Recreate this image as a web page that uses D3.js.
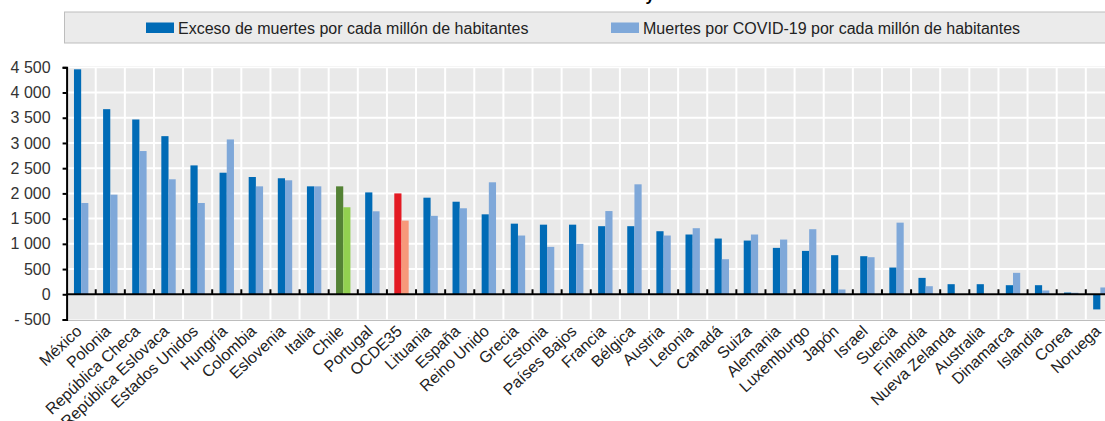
<!DOCTYPE html>
<html>
<head>
<meta charset="utf-8">
<script src="https://cdn.jsdelivr.net/npm/d3@7"></script>
<style>
  body { margin: 0; background: #fff; }
  svg { display: block; font-family: "Liberation Sans", Arial, sans-serif; }
</style>
</head>
<body>
<script>
var countries = ["México", "Polonia", "República Checa", "República Eslovaca", "Estados Unidos",
  "Hungría", "Colombia", "Eslovenia", "Italia", "Chile", "Portugal", "OCDE35", "Lituania",
  "España", "Reino Unido", "Grecia", "Estonia", "Países Bajos", "Francia", "Bélgica", "Austria",
  "Letonia", "Canadá", "Suiza", "Alemania", "Luxemburgo", "Japón", "Israel", "Suecia",
  "Finlandia", "Nueva Zelanda", "Australia", "Dinamarca", "Islandia", "Corea", "Noruega"];
var excess = [4460, 3670, 3465, 3135, 2555, 2410, 2325, 2300, 2140, 2140, 2020, 2000, 1915,
  1835, 1585, 1400, 1380, 1380, 1350, 1350, 1250, 1185, 1105, 1065, 920, 860, 775, 755, 530,
  325, 200, 200, 180, 180, 35, -300];
var covid = [1810, 1975, 2840, 2280, 1810, 3070, 2140, 2260, 2140, 1725, 1645, 1460, 1555,
  1705, 2220, 1165, 940, 1000, 1650, 2180, 1165, 1310, 695, 1185, 1085, 1290, 95, 735, 1420,
  160, 0, 0, 425, 75, 30, 135];
var seriesNames = ["Exceso de muertes por cada millón de habitantes",
  "Muertes por COVID-19 por cada millón de habitantes"];
var yTicks = [-500, 0, 500, 1000, 1500, 2000, 2500, 3000, 3500, 4000, 4500];
var yTickLabels = ["- 500", "0", "500", "1 000", "1 500", "2 000", "2 500", "3 000", "3 500", "4 000", "4 500"];

(function() {
  var W = 1105, H = 421;
  var pLeft = 66.6, pTop = 67.3, pBottom = 319.5;
  var band = 29.12;

  var svg = d3.select("body").append("svg").attr("width", W).attr("height", H);

  // colours: normal, Chile, OECD
  var darkCol = function(d) { return d === "Chile" ? "#548235" : d === "OCDE35" ? "#e31a23" : "#006bb6"; };
  var lightCol = function(d) { return d === "Chile" ? "#92d050" : d === "OCDE35" ? "#f7987a" : "#7fa8d9"; };

  var x = d3.scaleBand().domain(countries).range([pLeft, pLeft + band * countries.length]);
  var y = d3.scaleLinear().domain([-500, 4500]).range([pBottom, pTop]);
  var bw = band * 0.247;

  // clipped title fragment at the very top
  svg.append("text").attr("x", 650).attr("y", 1).attr("text-anchor", "middle")
    .style("font-size", "16px").style("font-weight", "bold").attr("fill", "#000").text("y");

  // legend
  svg.append("rect").attr("x", 64.5).attr("y", 12).attr("width", W).attr("height", 31)
    .attr("fill", "#ebebeb").attr("stroke", "#bdbdbd");
  var lg = [{x: 146, c: "#006bb6"}, {x: 611, c: "#7fa8d9"}];
  lg.forEach(function(l, i) {
    svg.append("rect").attr("x", l.x).attr("y", 22.5).attr("width", 28).attr("height", 10.5).attr("fill", l.c);
    svg.append("text").attr("x", l.x + 32).attr("y", 33.5).style("font-size", "16px")
      .attr("fill", "#222").text(seriesNames[i]);
  });

  // plot area
  svg.append("rect").attr("x", pLeft).attr("y", pTop).attr("width", W - pLeft).attr("height", pBottom - pTop)
    .attr("fill", "#e9e9e9");
  svg.append("line").attr("x1", pLeft).attr("x2", W).attr("y1", pTop - 0.5).attr("y2", pTop - 0.5)
    .attr("stroke", "#c8c8c8");
  svg.append("line").attr("x1", pLeft).attr("x2", W).attr("y1", pBottom + 1).attr("y2", pBottom + 1)
    .attr("stroke", "#bdbdbd");

  // grid
  svg.append("g").selectAll("line").data(yTicks.slice(1)).enter().append("line")
    .attr("x1", pLeft).attr("x2", W).attr("y1", function(d) { return y(d); }).attr("y2", function(d) { return y(d); })
    .attr("stroke", "#fff").attr("stroke-width", 2);
  svg.append("g").selectAll("line").data(countries.slice(1)).enter().append("line")
    .attr("x1", function(d) { return x(d); }).attr("x2", function(d) { return x(d); })
    .attr("y1", pTop).attr("y2", pBottom)
    .attr("stroke", "#fff").attr("stroke-width", 2);

  // bars
  var g = svg.append("g");
  g.selectAll(".ex").data(countries).enter().append("rect").attr("class", "ex")
    .attr("x", function(d) { return x(d) + band / 2 - bw; })
    .attr("width", bw)
    .attr("y", function(d, i) { return y(Math.max(0, excess[i])); })
    .attr("height", function(d, i) { return Math.abs(y(excess[i]) - y(0)); })
    .attr("fill", darkCol);
  g.selectAll(".cv").data(countries).enter().append("rect").attr("class", "cv")
    .attr("x", function(d) { return x(d) + band / 2; })
    .attr("width", bw)
    .attr("y", function(d, i) { return y(Math.max(0, covid[i])); })
    .attr("height", function(d, i) { return Math.abs(y(covid[i]) - y(0)); })
    .attr("fill", lightCol);

  // zero line with category ticks
  svg.append("line").attr("x1", pLeft).attr("x2", W).attr("y1", y(0)).attr("y2", y(0))
    .attr("stroke", "#000").attr("stroke-width", 2);
  svg.append("g").selectAll("line").data(countries.slice(1)).enter().append("line")
    .attr("x1", function(d) { return x(d); }).attr("x2", function(d) { return x(d); })
    .attr("y1", y(0)).attr("y2", y(0) - 5)
    .attr("stroke", "#000").attr("stroke-width", 2);

  // y axis
  var yAxis = d3.axisLeft(y).tickValues(yTicks).tickSize(4).tickPadding(12)
    .tickFormat(function(d, i) { return yTickLabels[i]; });
  var ya = svg.append("g").attr("transform", "translate(" + pLeft + ",0)").call(yAxis);
  ya.select(".domain").attr("stroke", "#000").attr("stroke-width", 2);
  ya.selectAll(".tick line").attr("stroke", "#000").attr("stroke-width", 2);
  ya.selectAll(".tick text").style("font-size", "16px").attr("fill", "#333")
    .style("font-family", "'Liberation Sans', Arial, sans-serif");

  // category labels
  svg.append("g").selectAll("text").data(countries).enter().append("text")
    .attr("transform", function(d) {
      return "translate(" + (x(d) + band / 2 + 1.5) + "," + (pBottom + 13) + ") rotate(-43)";
    })
    .attr("text-anchor", "end")
    .style("font-size", "16px").attr("fill", "#222")
    .text(function(d) { return d; });
})();
</script>
</body>
</html>
